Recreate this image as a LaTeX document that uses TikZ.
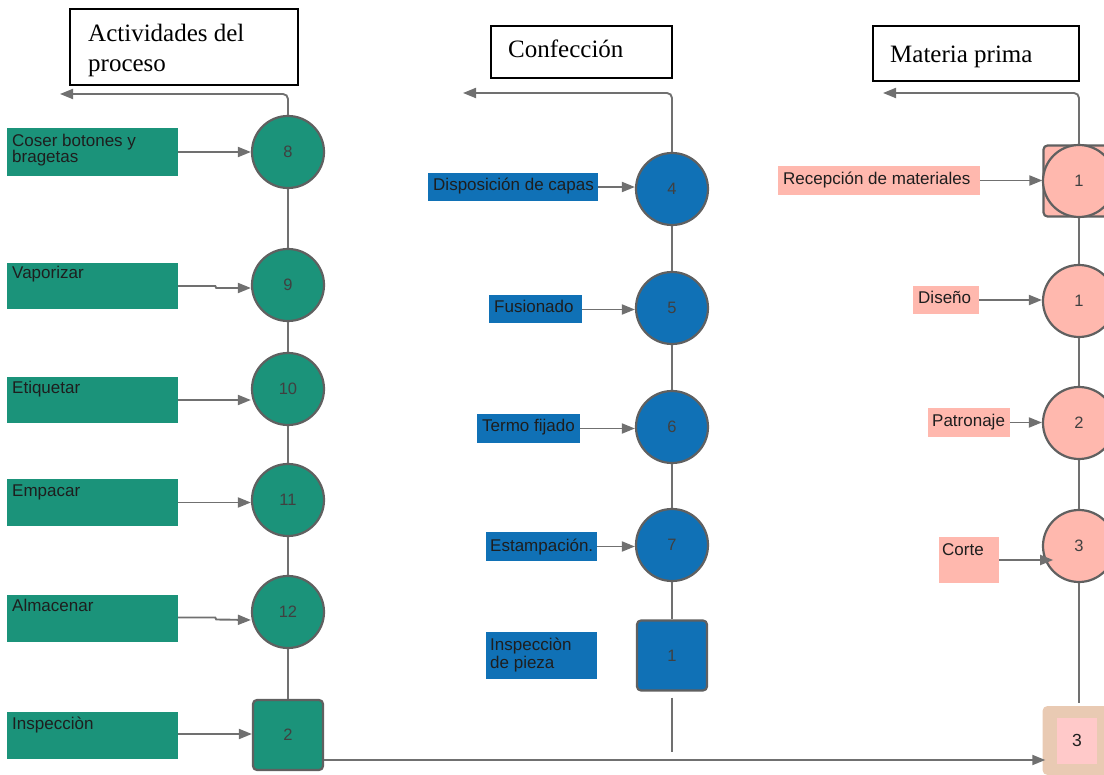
\documentclass[tikz,border=0pt]{standalone}
\usepackage{fontspec}
\setmainfont{Liberation Serif}
\newfontfamily\lblfont{Liberation Sans}
\usetikzlibrary{arrows.meta,calc}

\definecolor{grn}{HTML}{1B937A}
\definecolor{blu}{HTML}{1071B6}
\definecolor{pnk}{HTML}{FFB8AE}
\definecolor{tanbox}{HTML}{E9CAB3}
\definecolor{pnkin}{HTML}{FFC9C9}
\definecolor{edge}{HTML}{606060}
\definecolor{wire}{HTML}{707070}
\definecolor{ink}{HTML}{1E1E1E}

\begin{document}
\begin{tikzpicture}[x=1pt,y=-1pt,
  op/.style={circle, draw=edge, line width=2.2pt, minimum size=72pt, inner sep=0pt,
             font=\lblfont\fontsize{16.5}{16}\selectfont, text=ink!85},
  sqbox/.style={rectangle, rounded corners=4pt, draw=edge, line width=2.2pt,
             minimum size=69pt, inner sep=0pt, font=\lblfont\fontsize{16.5}{16}\selectfont, text=ink!85},
  lbl/.style={rectangle, inner sep=0pt, draw=none},
  txt/.style={anchor=base west, inner sep=0pt, font=\lblfont\fontsize{17}{17}\selectfont, text=ink},
  wireline/.style={draw=wire, line width=1.9pt},
  flow/.style={wireline, -{Triangle[length=13pt,width=10pt]}},
  titlebox/.style={rectangle, draw=black, line width=1.2pt, inner sep=0pt},
  titletxt/.style={anchor=base west, inner sep=0pt, font=\fontsize{25}{30}\selectfont, text=black}
]
\useasboundingbox (0,0) rectangle (1104,775);

% ---------------- Titles ----------------
\node[titlebox, minimum width=228pt, minimum height=76pt] (tbA) at (184,47) {};
\node[titletxt] (tA1) at (88,42) {Actividades del};
\node[titletxt] (tA2) at (88,72) {proceso};

\node[titlebox, minimum width=181pt, minimum height=52pt] (tbB) at (581.5,52) {};
\node[titletxt] (tB) at (508,58) {Confección};

\node[titlebox, minimum width=206pt, minimum height=55pt] (tbC) at (976,53.5) {};
\node[titletxt] (tC) at (890,63) {Materia prima};

% ---------------- Process activities (green) ----------------
\node[op, fill=grn] (g8)  at (288,152) {8};
\node[op, fill=grn] (g9)  at (288,285) {9};
\node[op, fill=grn] (g10) at (288,389) {10};
\node[op, fill=grn] (g11) at (288,500) {11};
\node[op, fill=grn] (g12) at (288,612) {12};
\node[sqbox, fill=grn, minimum size=70pt] (g2) at (288,735) {2};

\node[lbl, fill=grn, minimum width=171pt, minimum height=48pt] (bg8)  at (92.5,152) {};
\node[lbl, fill=grn, minimum width=171pt, minimum height=46pt] (bg9)  at (92.5,286) {};
\node[lbl, fill=grn, minimum width=171pt, minimum height=46pt] (bg10) at (92.5,400) {};
\node[lbl, fill=grn, minimum width=171pt, minimum height=47pt] (bg11) at (92.5,502.5) {};
\node[lbl, fill=grn, minimum width=171pt, minimum height=47pt] (bg12) at (92.5,618.5) {};
\node[lbl, fill=grn, minimum width=171pt, minimum height=47pt] (bg2)  at (92.5,735.5) {};

\node[txt] (xg8a) at (12,147) {Coser botones y};
\node[txt] (xg8b) at (12,163) {bragetas};
\node[txt] (xg9)  at (12,279) {Vaporizar};
\node[txt] (xg10) at (12,394) {Etiquetar};
\node[txt] (xg11) at (12,497) {Empacar};
\node[txt] (xg12) at (12,612) {Almacenar};
\node[txt] (xg2)  at (12,729) {Inspecciòn};

\draw[flow] (bg8.east |- g8) -- (g8);
\draw[flow] (bg9.east) -- ($(bg9.east)+(37,0)$) -- ($(bg9.east)+(38,2)$) -- ($(g9.west)+(0,3)$);
\draw[flow] (bg10.east) -- (g10.west |- bg10.east);
\draw[flow] (bg11.east) -- (g11.west |- bg11.east);
\draw[flow] ($(bg12.east)+(0,-1)$) -- ($(bg12.east)+(37,-1)$) -- ($(bg12.east)+(38,1)$) -- ($(g12.west)+(0,8)$);
\draw[flow] ($(bg2.east)+(0,-1.5)$) -- ($(g2.west)+(0,-1)$);

\draw[wireline] (g8) -- (g9) (g9) -- (g10) (g10) -- (g11) (g11) -- (g12) (g12) -- (g2);
\draw[flow, rounded corners=5pt] (g8.north) -- (288,94) -- (60,94);

% ---------------- Confección (blue) ----------------
\node[op, fill=blu] (b4) at (672,189) {4};
\node[op, fill=blu] (b5) at (672,308) {5};
\node[op, fill=blu] (b6) at (672,427) {6};
\node[op, fill=blu] (b7) at (672,545) {7};
\node[sqbox, fill=blu, minimum size=70pt] (b1) at (672,655.5) {1};
\coordinate (bend) at (672,752);

\node[lbl, fill=blu, minimum width=170pt, minimum height=28pt] (bb4) at (513,187) {};
\node[lbl, fill=blu, minimum width=93pt,  minimum height=28pt] (bb5) at (535.5,309.5) {};
\node[lbl, fill=blu, minimum width=103pt, minimum height=29pt] (bb6) at (528,428.5) {};
\node[lbl, fill=blu, minimum width=111pt, minimum height=29pt] (bb7) at (541.5,546.5) {};
\node[lbl, fill=blu, minimum width=111pt, minimum height=47pt] (bb1) at (541.5,655.5) {};

\node[txt] (xb4)  at (433,191) {Disposición de capas};
\node[txt] (xb5)  at (494,313) {Fusionado};
\node[txt] (xb6)  at (482,432) {Termo fijado};
\node[txt] (xb7)  at (490,551) {Estampación.};
\node[txt] (xb1a) at (490,650) {Inspecciòn};
\node[txt] (xb1b) at (490,668) {de pieza};

\draw[flow] (bb4.east) -- (b4.west |- bb4.east);
\draw[flow] (bb5.east) -- (b5.west |- bb5.east);
\draw[flow] (bb6.east) -- (b6.west |- bb6.east);
\draw[flow] (bb7.east) -- (b7.west |- bb7.east);

\draw[wireline] (b4) -- (b5) (b5) -- (b6) (b6) -- (b7) (b7) -- (b1);
\draw[wireline] ($(b1.south)+(0,6)$) -- (bend);
\draw[flow, rounded corners=5pt] (b4.north) -- (672,93) -- (463,93);

% ---------------- Materia prima (pink) ----------------
\node[sqbox, fill=pnk, minimum size=71pt] (p0s) at (1079,181) {};
\node[op, fill=pnk] (p0) at (1079,181) {1};
\node[op, fill=pnk] (p1) at (1079,301) {1};
\node[op, fill=pnk] (p2) at (1079,423) {2};
\node[op, fill=pnk] (p3) at (1079,546) {3};
\node[rectangle, rounded corners=5pt, fill=tanbox, minimum size=69pt, inner sep=0pt] (pq) at (1077,740.5) {};
\node[rectangle, fill=pnkin, minimum width=40pt, minimum height=46pt, inner sep=0pt,
      font=\lblfont\fontsize{17.5}{17}\selectfont, text=ink] (pqi) at (1077,740.5) {3};

\node[lbl, fill=pnk, minimum width=202pt, minimum height=29pt] (bp0) at (879,180.5) {};
\node[lbl, fill=pnk, minimum width=66pt,  minimum height=28pt] (bp1) at (946,300) {};
\node[lbl, fill=pnk, minimum width=82pt,  minimum height=29pt] (bp2) at (969,422.5) {};
\node[lbl, fill=pnk, minimum width=60pt,  minimum height=46pt] (bp3) at (969,560) {};

\node[txt] (xp0) at (783,185) {Recepción de materiales};
\node[txt] (xp1) at (918,304) {Diseño};
\node[txt] (xp2) at (932,427) {Patronaje};
\node[txt] (xp3) at (942,555) {Corte};

\draw[flow] (bp0.east) -- (p0s.west |- bp0.east);
\draw[flow] (bp1.east) -- (p1.west |- bp1.east);
\draw[flow] (bp2.east) -- (p2.west |- bp2.east);
\draw[flow] (bp3.east) -- ($(bp3.east)+(54,0)$);

\draw[wireline] (p0s) -- (p1) (p1) -- (p2) (p2) -- (p3);
\draw[wireline] (p3.south) -- (p3.south |- {$(pq.north)+(0,-3)$});
\draw[flow, rounded corners=5pt] (p0s.north) -- (1079,93) -- (883,93);

% ---------------- Link to the final inspection ----------------
\draw[flow] ($(g2.east)+(0,25)$) -- ($(pq.west)+(3,19.5)$);
\end{tikzpicture}
\end{document}
